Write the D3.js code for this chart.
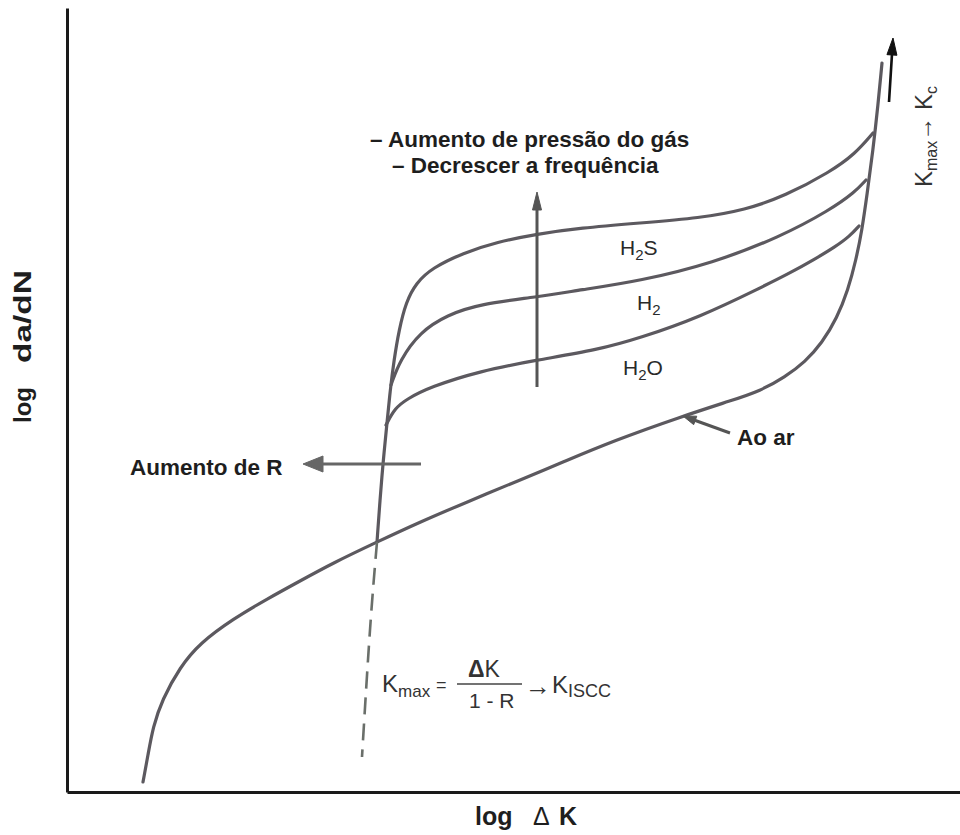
<!DOCTYPE html>
<html><head><meta charset="utf-8">
<script src="https://cdn.jsdelivr.net/npm/d3@7"></script>
<style>body{margin:0;background:#fff}svg{display:block}</style>
</head><body>
<svg id="c" width="960" height="835"></svg>
<script>
// Schematic values in arbitrary log units: [log ΔK, log da/dN]
const aoAr = [[76,10],[81,37],[86,65],[95,92],[113,125],[133,149],[166,173],[200,193],[233,211],[266,229],[310,250],[353,270],[400,290],[453,312],[496,330],[546,351],[613,375],[666,392],[693,401],[718,415],[738,430],[755,449],[770,474],[781,502],[789,532],[795,562],[800,597],[806,642],[811,687],[815,729]];
const h2sCurve = [[310,250],[313,292],[316,329],[320,369],[323,400],[327,432],[332,462],[339,490],[349,509],[365,524],[396,539],[430,550],[470,558],[513,564],[573,569],[633,574],[678,582],[718,596],[763,620],[788,638],[806,659]];
const h2Curve = [[324,407],[333,432],[353,460],[380,477],[413,488],[470,495],[513,502],[573,511],[646,529],[713,555],[763,582],[788,600],[799,612]];
const h2oCurve = [[319,367],[328,384],[340,393],[363,405],[413,421],[470,432],[530,442],[573,454],[633,475],[693,504],[723,519],[748,533],[768,545],[783,556],[792,566]];
const kmaxDashed = [[310,250],[303,162],[295,35]];
const gasLabels = [["H","2","S"],["H","2",""],["H","2","O"]];
const arrowFrom = [[470,405],[354,328],[663,359],[822,690]];
const arrowTo   = [[470,600],[236,328],[616,376],[826,754]];

const svg = d3.select("#c");
const x = d3.scaleLinear().domain([0,893]).range([67,960]);
const y = d3.scaleLinear().domain([0,784]).range([792,8]);
const line = d3.line().x(d=>x(d[0])).y(d=>y(d[1])).curve(d3.curveBasis);
const curveColor = "#5c595f";
const font = "'Liberation Sans', Arial, sans-serif";

// axes
svg.append("g").attr("transform",`translate(0,${y(0)})`)
  .call(d3.axisBottom(x).tickValues([]).tickSizeOuter(0))
  .call(g=>g.select(".domain").attr("stroke","#1a1a1a").attr("stroke-width",3));
svg.append("g").attr("transform",`translate(${x(0)},0)`)
  .call(d3.axisLeft(y).tickValues([]).tickSizeOuter(0))
  .call(g=>g.select(".domain").attr("stroke","#1a1a1a").attr("stroke-width",3));

// curves
[aoAr,h2sCurve,h2Curve,h2oCurve].forEach(c=>{
  svg.append("path").attr("d",line(c)).attr("fill","none")
    .attr("stroke",curveColor).attr("stroke-width",3.2).attr("stroke-linecap","round").attr("stroke-linejoin","round");
});
svg.append("path").attr("d",d3.line().x(d=>x(d[0])).y(d=>y(d[1])).curve(d3.curveNatural)(kmaxDashed))
  .attr("fill","none").attr("stroke","#6a6f6a").attr("stroke-width",2.6).attr("stroke-dasharray","17,9");

// arrows
const headStyle = [{L:18,W:4.5,c:"#555"},{L:20,W:8,c:"#666"},{L:13,W:4.5,c:"#555"},{L:17,W:5,c:"#111"}];
arrowFrom.forEach((f,i)=>{
  const p0=[x(f[0]),y(f[1])], p1=[x(arrowTo[i][0]),y(arrowTo[i][1])];
  const dx=p1[0]-p0[0], dy=p1[1]-p0[1], len=Math.hypot(dx,dy), ux=dx/len, uy=dy/len;
  const s=headStyle[i];
  const bx=p1[0]-ux*s.L, by=p1[1]-uy*s.L, nx=-uy, ny=ux;
  svg.append("line").attr("x1",p0[0]).attr("y1",p0[1]).attr("x2",bx+ux*2).attr("y2",by+uy*2)
    .attr("stroke",s.c).attr("stroke-width",i===3?2.6:3);
  svg.append("path").attr("d",`M${p1[0]},${p1[1]}L${bx+nx*s.W},${by+ny*s.W}L${bx-nx*s.W},${by-ny*s.W}Z`)
    .attr("fill",s.c).attr("stroke",s.c).attr("stroke-width",1).attr("stroke-linejoin","round");
});

// bold annotations
const bold = (t,px,py,size)=>svg.append("text").attr("x",px).attr("y",py).attr("font-family",font)
  .attr("font-weight","bold").attr("font-size",size).attr("fill","#1e1e1e").text(t);
bold("– Aumento de pressão do gás",370,147,22.5);
bold("– Decrescer a frequência",392,173,22.5);
bold("Aumento de R",130,475,22.5);
bold("Ao ar",737,445,22.5);

// gas labels
const gasPos = [[620,255],[637,310],[623,375]];
gasLabels.forEach((g,i)=>{
  const t = svg.append("text").attr("x",gasPos[i][0]).attr("y",gasPos[i][1]).attr("font-family",font)
    .attr("font-size",21).attr("fill","#2a2a2a");
  t.append("tspan").text(g[0]);
  t.append("tspan").attr("dy",5).attr("font-size",15).text(g[1]);
  if(g[2]) t.append("tspan").attr("dy",-5).text(g[2]);
});

// formula
const fcol="#333";
const f1 = svg.append("text").attr("x",382).attr("y",692).attr("font-family",font).attr("font-size",24).attr("fill",fcol);
f1.append("tspan").text("K");
f1.append("tspan").attr("dy",5).attr("font-size",17).text("max");
svg.append("text").attr("x",436).attr("y",691).attr("font-family",font).attr("font-size",18).attr("fill",fcol).text("=");
const num = svg.append("text").attr("x",468).attr("y",677).attr("font-family",font).attr("font-size",23).attr("fill",fcol);
num.append("tspan").attr("font-weight","bold").text("Δ");
num.append("tspan").text("K");
svg.append("line").attr("x1",457).attr("x2",522).attr("y1",684).attr("y2",684).attr("stroke","#444").attr("stroke-width",1.6);
svg.append("text").attr("x",469).attr("y",708).attr("font-family",font).attr("font-size",21).attr("fill",fcol).text("1 - R");
svg.append("text").attr("x",525).attr("y",695).attr("font-family",font).attr("font-size",26).attr("fill",fcol).text("→");
const f2 = svg.append("text").attr("x",552).attr("y",693).attr("font-family",font).attr("font-size",24).attr("fill",fcol);
f2.append("tspan").text("K");
f2.append("tspan").attr("dy",4).attr("font-size",18).text("ISCC");

// rotated K label
const kr = svg.append("text").attr("transform","translate(932,187) rotate(-90)").attr("font-family",font)
  .attr("font-size",24).attr("fill","#333");
kr.append("tspan").text("K");
kr.append("tspan").attr("dy",5).attr("font-size",16).text("max");
kr.append("tspan").attr("dy",-5).attr("font-size",24).text("→");
kr.append("tspan").text(" K");
kr.append("tspan").attr("dy",5).attr("font-size",16).text("c");

// axis titles
const xl = svg.append("text").attr("y",825).attr("font-family",font).attr("font-size",25).attr("fill","#1e1e1e");
xl.append("tspan").attr("x",475).attr("font-weight","bold").text("log");
xl.append("tspan").attr("x",533).attr("font-weight","normal").text("Δ");
xl.append("tspan").attr("x",559).attr("font-weight","bold").text("K");
const yl = svg.append("text").attr("transform","translate(31,423) rotate(-90)").attr("font-family",font)
  .attr("font-size",24).attr("font-weight","bold").attr("fill","#1e1e1e");
yl.append("tspan").attr("x",0).text("log");
yl.append("tspan").attr("x",60).attr("textLength",93).attr("lengthAdjust","spacingAndGlyphs").text("da/dN");
</script>
</body></html>
